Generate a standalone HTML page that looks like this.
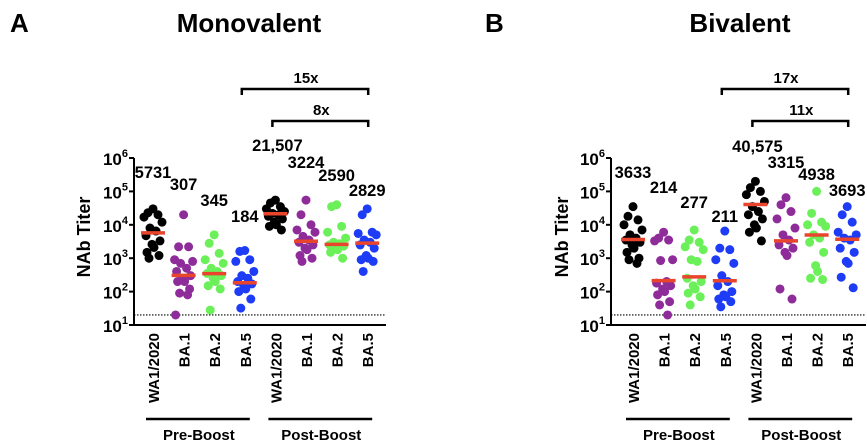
<!DOCTYPE html>
<html><head><meta charset="utf-8"><style>
html,body{margin:0;padding:0;background:#fff;width:867px;height:446px;overflow:hidden}
svg{display:block;font-family:"Liberation Sans",sans-serif;font-weight:bold}
</style></head><body>
<svg id="chart" width="867" height="446" viewBox="0 0 867 446"></svg>
<script>
const categories = ["WA1/2020","BA.1","BA.2","BA.5","WA1/2020","BA.1","BA.2","BA.5"];
const colors = ["#000000","#8e2c9a","#6cf05a","#1e3cf5","#000000","#8e2c9a","#6cf05a","#1e3cf5"];
const yTicks = [1,2,3,4,5,6];
const monoMedians = [5731,307,345,184,21507,3224,2590,2829];
const monoMedianLabels = ["5731","307","345","184","21,507","3224","2590","2829"];
const monoPoints = [
 [30000,23000,20000,17000,12000,8000,6500,4700,3300,2600,2100,1500,1200,1000],
 [20000,2200,2200,900,800,700,500,400,300,250,200,200,120,90,80,20],
 [5000,2800,1400,900,700,500,400,350,300,250,200,150,120,28],
 [1700,1600,900,800,400,300,250,200,170,150,120,100,60,32],
 [55000,45000,35000,30000,25000,22000,20000,18000,15000,12000,10000,9000,7000],
 [55000,20000,10000,7000,6000,4500,3500,3000,2500,2000,1800,1200,1000,800],
 [40000,35000,9000,6000,4000,3000,2700,2500,2300,2000,1800,1500,1000],
 [30000,20000,6000,5500,5000,3500,3000,2500,2000,1200,1000,900,800,400]
];
const biMedians = [3633,214,277,211,40575,3315,4938,3693];
const biMedianLabels = ["3633","214","277","211","40,575","3315","4938","3693"];
const biPoints = [
 [35000,18000,14000,10000,7000,5000,4000,3500,3000,2500,2000,1500,1000,900,700],
 [6000,4000,3500,3300,900,850,200,180,150,120,100,80,50,40,20],
 [7000,3500,3000,2200,1800,900,800,250,200,150,120,90,70,40],
 [6500,2000,1800,900,700,300,200,150,100,80,70,60,50,35],
 [200000,130000,100000,80000,50000,35000,25000,20000,15000,10000,8000,6000,3300],
 [65000,40000,25000,15000,8000,5000,3500,2500,2000,1500,1200,120,60],
 [100000,22000,12000,10000,9000,5000,4000,3000,1500,600,400,250,230],
 [35000,20000,12000,6000,5000,4000,3500,2000,1500,800,700,270,130]
];
const limitOfDetection = 20;
const monoFolds = ["15x","8x"];
const biFolds = ["17x","11x"];

const NS="http://www.w3.org/2000/svg";
const svg=document.getElementById('chart');
function mk(tag,attrs,parent,text){const e=document.createElementNS(NS,tag);for(const k in attrs)e.setAttribute(k,attrs[k]);if(text!==undefined)e.textContent=text;(parent||svg).appendChild(e);return e;}

function panel(opt){
  const g=mk('g',{});
  
  
  const ax=opt.axisX, yTop=158, yBot=325;
  const y=v=>yBot-(Math.log10(v)-1)*(yBot-yTop)/5;
  const x=i=>opt.x0+i*opt.dx;
  let t=mk('text',{x:opt.letterX,y:32,'font-size':26},g,opt.letter);
  
  
  t=mk('text',{x:opt.titleX,y:32,'font-size':26,'text-anchor':'middle'},g,opt.title);
  
  
  let a=mk('line',{x1:ax,y1:yTop,x2:ax,y2:yBot,stroke:'#000','stroke-width':2},g);
  
  
  a=mk('line',{x1:ax-1,y1:yBot,x2:opt.axisEnd,y2:yBot,stroke:'#000','stroke-width':2},g);
  
  
  yTicks.forEach(p=>{
    const yy=y(Math.pow(10,p));
    mk('line',{x1:ax-5,y1:yy,x2:ax,y2:yy,stroke:'#000','stroke-width':2},g);
    const tx=mk('text',{x:ax-6,y:yy+7,'font-size':17,'text-anchor':'end'},g);
    
    
    mk('tspan',{},tx,'10');
    mk('tspan',{dy:-8,'font-size':11},tx,String(p));
  });
  t=mk('text',{transform:`translate(${opt.ylabX},237) rotate(-90)`,'font-size':18,'text-anchor':'middle'},g,'NAb Titer');
  
  
  const ly=y(limitOfDetection);
  const lod=mk('line',{x1:ax,y1:ly,x2:opt.axisEnd,y2:ly,stroke:'#000','stroke-width':1.2,'stroke-dasharray':'1.5,1.5'},g);
  
  
  const jit=[0,-5,5,-9,9,-3,3,-7,7,-1,1,-6,6,-4,4,-8,8];
  opt.points.forEach((arr,i)=>{
    arr.forEach((v,j)=>{
      const c=mk('circle',{cx:x(i)+jit[j%jit.length],cy:y(v),r:4.5,fill:colors[i]},g);
      
      
    });
    const m=mk('line',{x1:x(i)-12,y1:y(opt.medians[i]),x2:x(i)+12,y2:y(opt.medians[i]),stroke:'#e8452c','stroke-width':3.5},g);
    
    
    const lab=mk('text',{x:x(i)+(i==4?2:0),y:opt.labelY[i]+6,'font-size':16.5,'text-anchor':'middle'},g,opt.labels[i]);
    
    
    const cl=mk('text',{transform:`translate(${x(i)+6},333) rotate(-90)`,'font-size':15,'text-anchor':'end'},g,categories[i]);
    
    
  });
  [[0,3,'Pre-Boost'],[4,7,'Post-Boost']].forEach(([a1,b1,name])=>{
    const l=mk('line',{x1:x(a1)-7,y1:419,x2:x(b1)+5,y2:419,stroke:'#000','stroke-width':2.5},g);
    
    
    const tt=mk('text',{x:(x(a1)+x(b1))/2,y:440,'font-size':15,'text-anchor':'middle'},g,name);
    
    
  });
  [[3,opt.folds[0],89],[4,opt.folds[1],121]].forEach(([from,lbl,by])=>{
    const p=mk('path',{d:`M${x(from)-3} ${by+6} V${by} H${x(7)+1} V${by+6}`,fill:'none',stroke:'#000','stroke-width':2.5},g);
    
    
    const tt=mk('text',{x:(x(from)+x(7))/2,y:by-6,'font-size':15,'text-anchor':'middle'},g,lbl);
    
    
  });
}
panel({name:'monovalent-panel',letter:'A',letterX:10,title:'Monovalent',titleX:249,axisX:134,axisEnd:386,x0:153,dx:30.6,ylabX:90,labelY:[172,184,200,216,145,162,175,190],points:monoPoints,medians:monoMedians,labels:monoMedianLabels,folds:monoFolds});
panel({name:'bivalent-panel',letter:'B',letterX:485,title:'Bivalent',titleX:740,axisX:611,axisEnd:866,x0:633,dx:30.6,ylabX:568,labelY:[172,187,202,216,146,162,174,190],points:biPoints,medians:biMedians,labels:biMedianLabels,folds:biFolds});
</script>
</body></html>
